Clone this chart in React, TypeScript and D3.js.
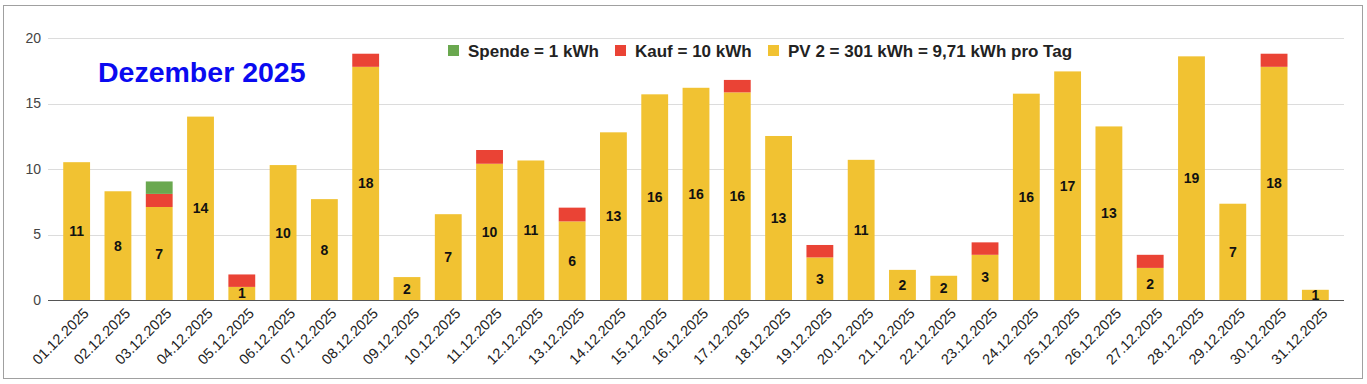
import React, { useEffect, useRef } from 'react';
import * as d3 from 'd3';

const days = [
  '01.12.2025', '02.12.2025', '03.12.2025', '04.12.2025', '05.12.2025', '06.12.2025', '07.12.2025',
  '08.12.2025', '09.12.2025', '10.12.2025', '11.12.2025', '12.12.2025', '13.12.2025', '14.12.2025',
  '15.12.2025', '16.12.2025', '17.12.2025', '18.12.2025', '19.12.2025', '20.12.2025', '21.12.2025',
  '22.12.2025', '23.12.2025', '24.12.2025', '25.12.2025', '26.12.2025', '27.12.2025', '28.12.2025',
  '29.12.2025', '30.12.2025', '31.12.2025',
];

const pv = [
  10.52, 8.3, 7.1, 14.0, 1.0, 10.3, 7.7, 17.8, 1.75, 6.55, 10.4, 10.65, 6.0, 12.8, 15.7, 16.2,
  15.85, 12.52, 3.25, 10.7, 2.3, 1.85, 3.45, 15.75, 17.45, 13.25, 2.45, 18.6, 7.35, 17.8, 0.78,
];
const kauf = [
  0, 0, 1.0, 0, 0.95, 0, 0, 1.0, 0, 0, 1.05, 0, 1.05, 0, 0, 0,
  0.95, 0, 0.95, 0, 0, 0, 0.95, 0, 0, 0, 1.0, 0, 0, 1.0, 0,
];
const spende = [
  0, 0, 0.95, 0, 0, 0, 0, 0, 0, 0, 0, 0, 0, 0, 0, 0,
  0, 0, 0, 0, 0, 0, 0, 0, 0, 0, 0, 0, 0, 0, 0,
];
const yTicks = [0, 5, 10, 15, 20];

const seriesKeys = ['pv', 'kauf', 'spende'];
const colors: Record<string, string> = { pv: '#f1c232', kauf: '#ea4335', spende: '#6aa84f' };
const legendItems = [
  { key: 'spende', label: 'Spende = 1 kWh' },
  { key: 'kauf', label: 'Kauf = 10 kWh' },
  { key: 'pv', label: 'PV 2 = 301 kWh = 9,71 kWh pro Tag' },
];

const App: React.FC = () => {
  const svgRef = useRef<SVGSVGElement | null>(null);

  useEffect(() => {
    const width = 1367;
    const height = 384;
    const font = '"Liberation Sans", Arial, sans-serif';

    const rows = days.map((d, i) => ({ day: d, pv: pv[i], kauf: kauf[i], spende: spende[i] }));

    const x = d3.scaleBand<string>()
      .domain(days)
      .range([56, 1336])
      .paddingInner(0.35)
      .paddingOuter(0.175);

    const y = d3.scaleLinear().domain([0, 20]).range([300, 38]);

    const svg = d3.select(svgRef.current)
      .attr('width', width)
      .attr('height', height);
    svg.selectAll('*').remove();

    svg.append('rect')
      .attr('width', width)
      .attr('height', height)
      .attr('fill', '#fff');

    // Rahmen
    svg.append('rect')
      .attr('x', 3.5)
      .attr('y', 5.5)
      .attr('width', 1359)
      .attr('height', 373)
      .attr('fill', 'none')
      .attr('stroke', '#a0a0a0');

    // Gitterlinien
    svg.append('g')
      .selectAll('line')
      .data(yTicks.filter(t => t > 0))
      .enter()
      .append('line')
      .attr('x1', 48)
      .attr('x2', 1344)
      .attr('y1', d => Math.round(y(d)) + 0.5)
      .attr('y2', d => Math.round(y(d)) + 0.5)
      .attr('stroke', '#dcdcdc');

    svg.append('g')
      .selectAll('text')
      .data(yTicks)
      .enter()
      .append('text')
      .attr('x', 41)
      .attr('y', d => y(d))
      .attr('dy', '0.35em')
      .attr('text-anchor', 'end')
      .style('font-family', font)
      .style('font-size', '14px')
      .attr('fill', '#444')
      .text(d => d);

    const stacked = d3.stack<any>().keys(seriesKeys)(rows);

    svg.append('g')
      .selectAll('g')
      .data(stacked)
      .enter()
      .append('g')
      .attr('fill', d => colors[d.key])
      .selectAll('rect')
      .data(d => d.filter(s => s[1] - s[0] > 0))
      .enter()
      .append('rect')
      .attr('x', d => x(d.data.day) as number)
      .attr('width', x.bandwidth())
      .attr('y', d => y(d[1]))
      .attr('height', d => y(d[0]) - y(d[1]));

    // Grundlinie
    svg.append('line')
      .attr('x1', 48)
      .attr('x2', 1344)
      .attr('y1', 300.5)
      .attr('y2', 300.5)
      .attr('stroke', '#555');

    // Werte im PV-Balken
    svg.append('g')
      .selectAll('text')
      .data(rows)
      .enter()
      .append('text')
      .attr('x', d => (x(d.day) as number) + x.bandwidth() / 2)
      .attr('y', d => (y(0) + y(d.pv)) / 2)
      .attr('dy', '0.36em')
      .attr('text-anchor', 'middle')
      .style('font-family', font)
      .style('font-size', '14px')
      .style('font-weight', 'bold')
      .attr('fill', '#111')
      .text(d => Math.round(d.pv));

    // Datumsbeschriftung
    svg.append('g')
      .selectAll('text')
      .data(days)
      .enter()
      .append('text')
      .attr('transform', d => `translate(${(x(d) as number) + x.bandwidth() / 2 + 6}, 307) rotate(-45)`)
      .attr('text-anchor', 'end')
      .attr('dy', '0.7em')
      .style('font-family', font)
      .style('font-size', '14.5px')
      .attr('fill', '#222')
      .text(d => d);

    // Titel
    svg.append('text')
      .attr('x', 98)
      .attr('y', 82)
      .style('font-family', font)
      .style('font-size', '28.5px')
      .style('font-weight', 'bold')
      .attr('fill', '#0a0af0')
      .text('Dezember 2025');

    // Legende
    const legendX = [448, 615, 768];
    const items = svg.append('g')
      .selectAll('g')
      .data(legendItems)
      .enter()
      .append('g')
      .attr('transform', (_, i) => `translate(${legendX[i]}, 45)`);

    items.append('rect')
      .attr('width', 11)
      .attr('height', 11)
      .attr('fill', d => colors[d.key]);

    items.append('text')
      .attr('x', 20)
      .attr('y', 5.5)
      .attr('dy', '0.36em')
      .style('font-family', font)
      .style('font-size', '17px')
      .style('font-weight', 'bold')
      .attr('fill', '#222')
      .text(d => d.label);
  }, []);

  return <svg ref={svgRef} style={{ position: 'absolute', left: 0, top: 0 }}></svg>;
};

export default App;
